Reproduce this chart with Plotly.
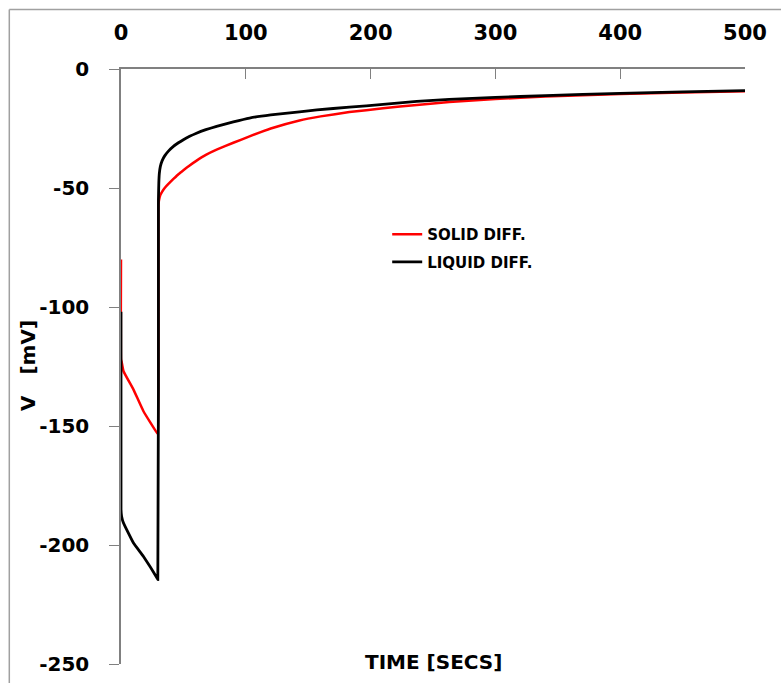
import plotly.graph_objects as go

# SOLID DIFF. series
solid_t = [0, 0, 0.5, 2, 10, 18, 29, 29.5, 30, 30.5, 31.5, 33, 35, 38, 42, 46, 50, 55, 60, 68,
           76.6, 90, 103, 120, 143, 160, 183, 210, 237, 263, 300, 340, 400, 450, 500]
solid_v = [-80, -122, -123, -127, -134.7, -143.8, -153, -153, -57, -55, -53, -51.5, -50, -48.3,
           -46.2, -44.2, -42.5, -40.5, -38.7, -36.1, -33.9, -31.0, -28.3, -25.0, -21.6, -19.9,
           -18.1, -16.5, -15.1, -13.9, -12.6, -11.6, -10.5, -9.9, -9.4]

# LIQUID DIFF. series
liquid_t = [0, 0, 0.5, 2, 10, 18, 29, 29.5, 30, 30.3, 30.7, 31.5, 33, 35, 38, 42, 46, 50, 55, 60,
            68, 76.6, 90, 103, 120, 143, 157, 183, 210, 237, 263, 300, 340, 400, 450, 500]
liquid_v = [-102, -185, -188, -190.8, -199.2, -204.8, -214, -214.5, -55, -48, -44, -41, -38.5,
            -36.5, -34.5, -32.5, -31, -29.7, -28.3, -27.1, -25.5, -24.1, -22.2, -20.6, -19.3,
            -18.0, -17.2, -16.0, -14.9, -13.6, -12.8, -11.9, -11.2, -10.2, -9.6, -9.1]

x_ticks = [0, 100, 200, 300, 400, 500]
y_ticks = [0, -50, -100, -150, -200, -250]
y_tick_text = ["0", "-50", "-100", "-150", "-200", "-250"]

FONT = "DejaVu Sans"

fig = go.Figure()
fig.add_trace(go.Scatter(x=solid_t, y=solid_v, mode="lines", name="SOLID DIFF.",
                         legendgroup="s",
                         line=dict(color="#FF0000", width=2.5, shape="spline", smoothing=0.3)))
fig.add_trace(go.Scatter(x=liquid_t, y=liquid_v, mode="lines", name="LIQUID DIFF.",
                         legendgroup="l",
                         line=dict(color="#000000", width=2.8, shape="spline", smoothing=0.3)))

fig.update_layout(
    width=781, height=683,
    margin=dict(l=121, r=35.5, t=69.3, b=18.5, autoexpand=False),
    paper_bgcolor="white", plot_bgcolor="white",
    showlegend=True,
    legend=dict(x=0.4266, y=0.699, xanchor="left", yanchor="middle",
                bgcolor="rgba(0,0,0,0)",
                font=dict(family=FONT, size=15, color="black", weight="bold"),
                tracegroupgap=5),
    xaxis=dict(range=[0, 500], side="top", tickvals=x_ticks, ticks="inside", ticklen=10,
               tickcolor="#808080", showline=True, linecolor="#808080", linewidth=1.5,
               showgrid=False, zeroline=False, automargin=False,
               tickfont=dict(family=FONT, size=21, color="black", weight="bold"),
               ticklabelstandoff=19),
    yaxis=dict(range=[-250, 0], tickvals=y_ticks, ticktext=y_tick_text, ticks="outside",
               ticklen=10, tickcolor="#808080", showline=True, linecolor="#808080",
               linewidth=1.5, showgrid=False, zeroline=False, automargin=False,
               tickfont=dict(family=FONT, size=20, color="black", weight="bold"),
               ticklabelstandoff=16),
    annotations=[
        dict(text="TIME [SECS]", xref="paper", yref="paper", x=0.5, y=0.003,
             xanchor="center", yanchor="middle", showarrow=False,
             font=dict(family=FONT, size=20, color="black", weight="bold")),
        dict(text="V   [mV]", xref="paper", yref="paper", x=-0.149, y=0.501,
             xanchor="center", yanchor="middle", showarrow=False, textangle=-90,
             font=dict(family=FONT, size=20, color="black", weight="bold")),
    ],
    shapes=[
        dict(type="line", xref="paper", yref="paper", x0=-0.179, x1=1.1, y0=1.1, y1=1.1,
             line=dict(color="#A0A0A0", width=1.5)),
        dict(type="line", xref="paper", yref="paper", x0=-0.179, x1=-0.179, y0=-0.1, y1=1.1,
             line=dict(color="#A0A0A0", width=1.5)),
    ],
)

fig.write_html("out.html", config={"displayModeBar": False},
               post_script="document.body.style.margin='0';")
